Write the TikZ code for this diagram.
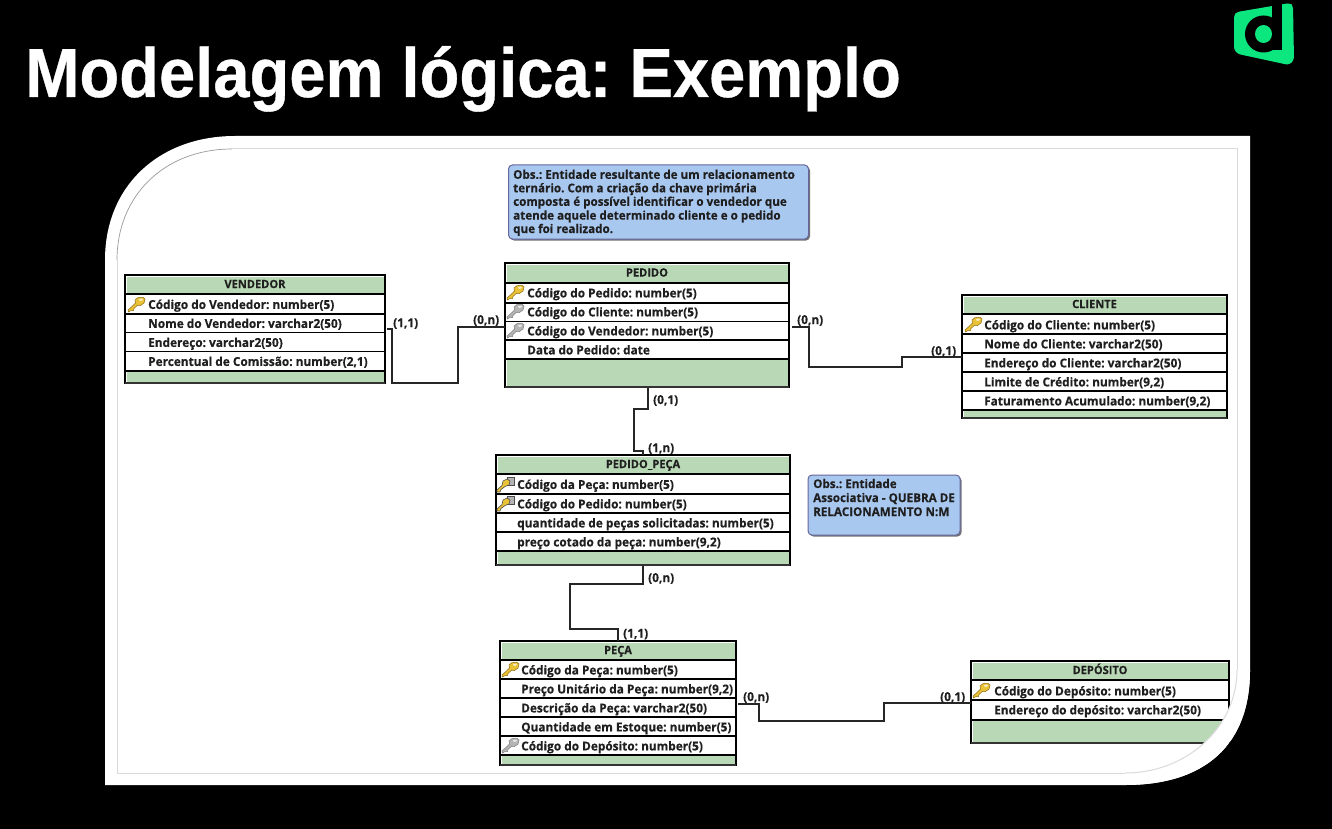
\documentclass[tikz,border=0pt]{standalone}
\usepackage{fontspec}
\setmainfont{Open Sans}[FakeStretch=0.97,BoldFeatures={FakeBold=0.35}]
\newfontfamily\titlefont{Liberation Sans}[FakeStretch=0.937,BoldFeatures={FakeBold=0.5}]
\frenchspacing
\usetikzlibrary{shadows}
\definecolor{ergreen}{HTML}{B9D9B6}
\definecolor{erblue}{HTML}{A9C8F0}
\definecolor{logogreen}{HTML}{0CE67F}
\definecolor{framegray}{HTML}{DADADA}
\definecolor{keygold}{HTML}{E9C235}
\definecolor{keygoldd}{HTML}{8E6C12}
\definecolor{keygray}{HTML}{B4B4B4}
\definecolor{keygrayd}{HTML}{7E7E7E}
\tikzset{
  x=1pt,y=-1pt,
  tablebox/.style={draw=black,line width=1.3pt,fill=white,inner sep=0,outer sep=0},
  greenband/.style={fill=ergreen,draw=none},
  rule/.style={draw=black,line width=1.1pt},
  rowtext/.style={anchor=base west,inner sep=0,font=\fontsize{12.2}{14}\selectfont\bfseries,text=black!88},
  headtext/.style={anchor=base,inner sep=0,font=\fontsize{11.4}{14}\selectfont\bfseries,text=black!88},
  cardlabel/.style={anchor=base west,inner sep=0,font=\fontsize{12.2}{14}\selectfont\bfseries,text=black!88},
  conn/.style={draw=black!85,line width=1.2pt},
  notebox/.style={draw=black!65!blue!60,line width=1pt,fill=erblue,rounded corners=4pt,inner sep=0,outer sep=0},
  notetext/.style={anchor=base west,inner sep=0,font=\fontsize{12}{13.5}\selectfont\bfseries,text=black!88},
}
% name x1 y1 x2 y2 headerbottom footertop title
\newcommand\ertable[8]{%
  \pgfmathsetmacro\erw{#4-#2}\pgfmathsetmacro\erh{#5-#3}%
  \pgfmathsetmacro\ercx{(#4+#2)/2}\pgfmathsetmacro\ercy{(#5+#3)/2}%
  \pgfmathsetmacro\ertb{(#3+#6)/2+3.6}%
  \node[tablebox,minimum width=\erw pt,minimum height=\erh pt] (#1) at (\ercx,\ercy) {};
  \fill[greenband] (#2+1.5,#3+1.5) rectangle (#4-1.5,#6-1);
  \fill[greenband] (#2+1.5,#7+1) rectangle (#4-1.5,#5-1.5);
  \draw[rule,line width=1.5pt] (#2,#6) -- (#4,#6);
  \draw[rule,line width=1.5pt] (#2,#7) -- (#4,#7);
  \draw[draw=black!80,line width=2pt] (#2,#5) -- (#4,#5);
  \node[headtext] (#1-title) at (\ercx,\ertb) {#8};
}
\newcommand\errow[5]{%
  \pgfmathsetmacro\erby{#4+4.4}%
  \node[rowtext] (#1-#2) at (#3,\erby) {#5};
}
\newcommand\errule[2]{\draw[rule] (#1.west |- 0,#2) -- (#1.east |- 0,#2);}
\newcommand\erkey[4]{%
  \begin{scope}[shift={(#1,#2)}]
    \fill[#3,draw=#4,line width=.5pt] (0.5,15) -- (0,13) -- (4,9.5) -- (7.5,6) -- (7,3) -- (10,.6) -- (15,0.3) -- (17,2) -- (16,6) -- (12.5,8.5) -- (9.5,8.2) -- (6,11.5) -- (5.5,13.5) -- (3,13.5) -- cycle;
    \fill[white!70!#3] (11,2) -- (14.5,1.6) -- (15,3) -- (12,4.2) -- cycle;
  \end{scope}
}
\newcommand\erdkey[2]{%
  \begin{scope}[shift={(#1,#2)}]
    \fill[keygray,draw=black!70,line width=.5pt] (10,0) rectangle (17,8);
    \fill[keygold,draw=black!70,line width=.6pt] (0,15) -- (0,13) -- (5,8.5) -- (6,4) -- (10,2) -- (13,4) -- (12,8) -- (8,9.5) -- (4,12.5) -- (3,15) -- cycle;
  \end{scope}
}
\begin{document}
\begin{tikzpicture}
\useasboundingbox (0,0) rectangle (1332,829);
\fill[black] (0,0) rectangle (1332,829);
% title
\node[anchor=base west,inner sep=0,text=white,font=\titlefont\fontsize{69.5}{70}\selectfont\bfseries] (title) at (25,97) {Modelagem lógica: Exemplo};
% logo
\fill[logogreen,rounded corners=3pt] (1234,15) -- (1237,12) -- (1290,3) -- (1293,6) -- (1294,60) -- (1289,65) -- (1238,54) -- (1234,50) -- cycle;
\fill[black] (1263.5,34) ellipse (18.5 and 18.5);
\fill[black] (1272,2) rectangle (1282,50);
\fill[logogreen] (1263.5,34) ellipse (8.5 and 9);
% white panel
\fill[white] (235,136) -- (1250,136) -- (1250,670) .. controls (1250,745) and (1205,785) .. (1125,785) -- (105,785) -- (105,260) .. controls (105,185) and (160,136) .. (235,136) -- cycle;
% inner frame
\draw[framegray,line width=1pt] (232,149) -- (1237,149) -- (1237,670);
\draw[framegray,line width=1pt] (1125,773) -- (117,773) -- (117,260);
\draw[black!40,line width=.7pt] (117,260) .. controls (117,195) and (165,149) .. (232,149);

\ertable{vendedor}{125}{275}{385}{383}{294}{371}{VENDEDOR}
\errow{vendedor}{1}{148}{304.5}{Código do Vendedor: number(5)}
\errow{vendedor}{2}{148}{323.5}{Nome do Vendedor: varchar2(50)}
\errow{vendedor}{3}{148}{342.5}{Endereço: varchar2(50)}
\errow{vendedor}{4}{148}{361.5}{Percentual de Comissão: number(2,1)}
\errule{vendedor}{314}\errule{vendedor}{332.5}\errule{vendedor}{351.5}
\erkey{128}{297}{keygold}{keygoldd}

\ertable{pedido}{505}{263}{789}{387}{283}{359}{PEDIDO}
\errow{pedido}{1}{527}{293}{Código do Pedido: number(5)}
\errow{pedido}{2}{527}{312}{Código do Cliente: number(5)}
\errow{pedido}{3}{527}{331}{Código do Vendedor: number(5)}
\errow{pedido}{4}{527}{350}{Data do Pedido: date}
\errule{pedido}{303}\errule{pedido}{321.5}\errule{pedido}{340}
\erkey{507}{285}{keygold}{keygoldd}
\erkey{507}{304}{keygray}{keygrayd}
\erkey{507}{323}{keygray}{keygrayd}

\ertable{cliente}{962}{295}{1227}{418}{314}{410}{CLIENTE}
\errow{cliente}{1}{984}{325}{Código do Cliente: number(5)}
\errow{cliente}{2}{984}{344}{Nome do Cliente: varchar2(50)}
\errow{cliente}{3}{984}{363}{Endereço do Cliente: varchar2(50)}
\errow{cliente}{4}{984}{382}{Limite de Crédito: number(9,2)}
\errow{cliente}{5}{984}{401}{Faturamento Acumulado: number(9,2)}
\errule{cliente}{334}\errule{cliente}{353}\errule{cliente}{372}\errule{cliente}{391}
\erkey{965}{317}{keygold}{keygoldd}

\ertable{pedpeca}{496}{455}{790}{565}{474}{551}{PEDIDO\_PEÇA}
\errow{pedpeca}{1}{517}{484.5}{Código da Peça: number(5)}
\errow{pedpeca}{2}{517}{504}{Código do Pedido: number(5)}
\errow{pedpeca}{3}{517}{523}{quantidade de peças solicitadas: number(5)}
\errow{pedpeca}{4}{517}{542}{preço cotado da peça: number(9,2)}
\errule{pedpeca}{494}\errule{pedpeca}{513}\errule{pedpeca}{532}
\erdkey{497}{477}
\erdkey{497}{496}

\ertable{peca}{500}{641}{736}{765}{660}{755}{PEÇA}
\errow{peca}{1}{521}{670}{Código da Peça: number(5)}
\errow{peca}{2}{521}{689}{Preço Unitário da Peça: number(9,2)}
\errow{peca}{3}{521}{708}{Descrição da Peça: varchar2(50)}
\errow{peca}{4}{521}{727}{Quantidade em Estoque: number(5)}
\errow{peca}{5}{521}{746}{Código do Depósito: number(5)}
\errule{peca}{679}\errule{peca}{698}\errule{peca}{717}\errule{peca}{736}
\erkey{502}{662}{keygold}{keygoldd}
\erkey{502}{738}{keygray}{keygrayd}

\ertable{deposito}{971}{661}{1229}{743}{680}{720}{DEPÓSITO}
\errow{deposito}{1}{994}{691}{Código do Depósito: number(5)}
\errow{deposito}{2}{994}{710}{Endereço do depósito: varchar2(50)}
\errule{deposito}{700}
\erkey{973}{683}{keygold}{keygoldd}

% rounded mask over the bottom-right corner
\fill[white] (1237,670) .. controls (1237,727) and (1187,773) .. (1125,773) -- (1125,785) .. controls (1205,785) and (1250,745) .. (1250,670) -- cycle;
\draw[framegray,line width=1pt] (1237,670) .. controls (1237,727) and (1187,773) .. (1125,773);

% notes
\node[notebox,minimum width=300pt,minimum height=74pt,drop shadow={shadow xshift=1.5pt,shadow yshift=-1.5pt,fill=black!55,opacity=1}] (note1) at (658.5,202) {};
\node[notetext] (note1-a) at (513,178.8) {Obs.: Entidade resultante de um relacionamento};
\node[notetext] (note1-b) at (513,192.3) {ternário. Com a criação da chave primária};
\node[notetext] (note1-c) at (513,205.8) {composta é possível identificar o vendedor que};
\node[notetext] (note1-d) at (513,219.6) {atende aquele determinado cliente e o pedido};
\node[notetext] (note1-e) at (513,233) {que foi realizado.};
\node[notebox,minimum width=152pt,minimum height=60pt,drop shadow={shadow xshift=1.5pt,shadow yshift=-1.5pt,fill=black!55,opacity=1}] (note2) at (884,505) {};
\node[notetext] (note2-a) at (813,488) {Obs.: Entidade};
\node[notetext] (note2-b) at (813,502) {Associativa - QUEBRA DE};
\node[notetext] (note2-c) at (813,516) {RELACIONAMENTO N:M};

% connectors
\draw[conn] (vendedor.east |- 0,329) ++(2,0) -- (392,329) -- (392,383) -- (458,383) -- (458,327) -- (pedido.west |- 0,327);
\draw[conn] (pedido.east |- 0,327) ++(3,0) -- (809,327) -- (809,367) -- (902,367) -- (902,357) -- (cliente.west |- 0,357);
\draw[conn] (pedido.south -| 648,0) ++(0,1) -- (648,409) -- (634,409) -- (634,451) -- (643,451) -- (pedpeca.north -| 643,0);
\draw[conn] (pedpeca.south -| 643,0) ++(0,1) -- (643,584) -- (570,584) -- (570,629) -- (618,629) -- (peca.north -| 618,0);
\draw[conn] (peca.east |- 0,704) ++(2,0) -- (759,704) -- (759,721) -- (884,721) -- (884,703) -- (deposito.west |- 0,703);

% cardinalities
\node[cardlabel] (c-a) at (393,327) {(1,1)};
\node[cardlabel] (c-b) at (473,324) {(0,n)};
\node[cardlabel] (c-c) at (797,324) {(0,n)};
\node[cardlabel] (c-d) at (931,355) {(0,1)};
\node[cardlabel] (c-e) at (653,404) {(0,1)};
\node[cardlabel] (c-f) at (648,452) {(1,n)};
\node[cardlabel] (c-g) at (648,582) {(0,n)};
\node[cardlabel] (c-h) at (623,637.5) {(1,1)};
\node[cardlabel] (c-i) at (743,701) {(0,n)};
\node[cardlabel] (c-j) at (940,701) {(0,1)};
\end{tikzpicture}
\end{document}
